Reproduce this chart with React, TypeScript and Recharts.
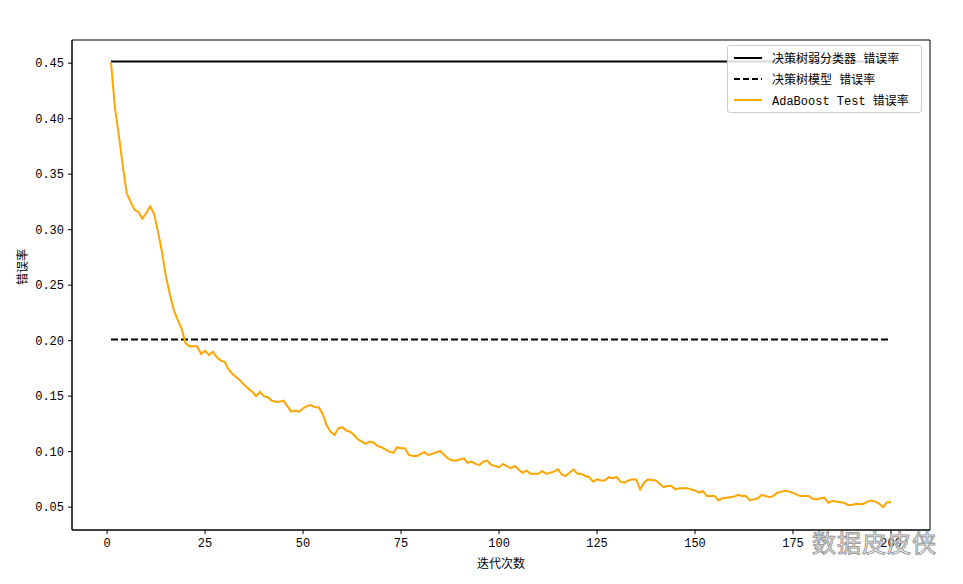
import { Line, LineChart, ReferenceArea, XAxis, YAxis } from "recharts";

// AdaBoost test error vs. boosting iterations, compared with a single stump
// and a full decision tree (both constant).

const FONT = "'Liberation Mono', 'Noto Sans CJK SC', monospace";

const iterations: number[] = Array.from({ length: 200 }, (_, i) => i + 1);

const stumpError = 0.4515;
const treeError = 0.201;

// iteration 1..200
const adaError: number[] = [
  0.451, 0.41, 0.385, 0.358, 0.333, 0.325, 0.318, 0.316, 0.31, 0.315,
  0.321, 0.314, 0.298, 0.28, 0.258, 0.242, 0.228, 0.219, 0.211, 0.198,
  0.195, 0.195, 0.195, 0.188, 0.191, 0.187, 0.19, 0.185, 0.182, 0.181,
  0.174, 0.17, 0.167, 0.164, 0.16, 0.157, 0.154, 0.15, 0.154, 0.15,
  0.149, 0.146, 0.145, 0.145, 0.146, 0.141, 0.136, 0.137, 0.136, 0.139,
  0.141, 0.142, 0.14, 0.14, 0.134, 0.124, 0.118, 0.115, 0.121, 0.122,
  0.119, 0.118, 0.115, 0.111, 0.109, 0.107, 0.109, 0.108, 0.105, 0.104,
  0.102, 0.1, 0.099, 0.104, 0.103, 0.103, 0.097, 0.096, 0.096, 0.098,
  0.0995, 0.097, 0.098, 0.0995, 0.1005, 0.097, 0.094, 0.092, 0.092, 0.093,
  0.094, 0.09, 0.091, 0.089, 0.088, 0.091, 0.092, 0.088, 0.087, 0.086,
  0.089, 0.087, 0.085, 0.087, 0.084, 0.081, 0.083, 0.08, 0.08, 0.08,
  0.0825, 0.08, 0.081, 0.082, 0.084, 0.0795, 0.078, 0.081, 0.084, 0.08,
  0.08, 0.078, 0.077, 0.073, 0.075, 0.074, 0.074, 0.077, 0.076, 0.077,
  0.073, 0.072, 0.074, 0.075, 0.075, 0.066, 0.072, 0.075, 0.0745, 0.074,
  0.071, 0.068, 0.069, 0.069, 0.066, 0.067, 0.067, 0.067, 0.066, 0.065,
  0.063, 0.0645, 0.06, 0.06, 0.06, 0.056, 0.058, 0.0585, 0.059, 0.0595,
  0.061, 0.06, 0.06, 0.056, 0.057, 0.058, 0.061, 0.06, 0.059, 0.06,
  0.063, 0.064, 0.0647, 0.064, 0.063, 0.061, 0.06, 0.06, 0.06, 0.0575,
  0.057, 0.058, 0.0585, 0.054, 0.0555, 0.055, 0.0545, 0.054, 0.052, 0.052,
  0.053, 0.0525, 0.053, 0.055, 0.056, 0.055, 0.053, 0.05, 0.0545, 0.0545,
];

const xTicks = [0, 25, 50, 75, 100, 125, 150, 175, 200];
const yTicks = [0.05, 0.1, 0.15, 0.2, 0.25, 0.3, 0.35, 0.4, 0.45];

const seriesNames = ["决策树弱分类器 错误率", "决策树模型 错误率", "AdaBoost Test 错误率"];

const data = iterations.map((it, i) => ({
  iter: it,
  stump: stumpError,
  tree: treeError,
  ada: adaError[i],
}));

// matplotlib-style 5% margins around the data
const X_DOMAIN: [number, number] = [-8.95, 209.95];
const Y_DOMAIN: [number, number] = [0.0294, 0.4709];

const tickStyle = { fill: "#000", fontSize: 12, fontFamily: FONT };

// plain overlay, a recharts <Legend> would steal height from the plot
const LegendBox = () => {
  const rows = [
    { name: seriesNames[0], color: "#000", dash: undefined },
    { name: seriesNames[1], color: "#000", dash: "6 3" },
    { name: seriesNames[2], color: "#FFA500", dash: undefined },
  ];
  return (
    <div
      style={{
        position: "absolute",
        left: 727,
        top: 45,
        border: "1px solid #ccc",
        borderRadius: 3,
        background: "rgba(255,255,255,0.85)",
        padding: "1px 6px 2px 6px",
        fontFamily: FONT,
        fontSize: 12,
        width: 181,
      }}
    >
      {rows.map(r => (
        <div key={r.name} style={{ display: "flex", alignItems: "center", height: 21 }}>
          <svg width={28} height={10} style={{ marginRight: 10 }}>
            <line x1={0} y1={5} x2={28} y2={5} stroke={r.color} strokeWidth={2} strokeDasharray={r.dash} />
          </svg>
          <span style={{ whiteSpace: "nowrap" }}>{r.name}</span>
        </div>
      ))}
    </div>
  );
};

export default function App() {
  return (
    <div style={{ position: "absolute", left: 0, top: 0, width: 963, height: 584, background: "#fff" }}>
      <LineChart
        width={963}
        height={584}
        data={data}
        margin={{ top: 40, right: 33, left: 12, bottom: 24 }}
      >
        <XAxis
          dataKey="iter"
          type="number"
          domain={X_DOMAIN}
          ticks={xTicks}
          allowDataOverflow
          tick={tickStyle}
          tickSize={4}
          tickMargin={4}
          stroke="#000"
          height={30}
          label={{ value: "迭代次数", position: "insideBottom", offset: -8, fill: "#000", fontSize: 12, fontFamily: FONT }}
        />
        <YAxis
          type="number"
          domain={Y_DOMAIN}
          ticks={yTicks}
          allowDataOverflow
          tickFormatter={(v: number) => v.toFixed(2)}
          tick={tickStyle}
          tickSize={4}
          tickMargin={4}
          stroke="#000"
          width={60}
          label={{ value: "错误率", angle: -90, position: "insideLeft", offset: 11, fill: "#000", fontSize: 12, fontFamily: FONT }}
        />
        <ReferenceArea
          x1={X_DOMAIN[0]}
          x2={X_DOMAIN[1]}
          y1={Y_DOMAIN[0]}
          y2={Y_DOMAIN[1]}
          fill="none"
          stroke="#000"
          strokeWidth={1}
          ifOverflow="visible"
        />
        <Line dataKey="stump" name={seriesNames[0]} stroke="#000" strokeWidth={2} dot={false} isAnimationActive={false} />
        <Line dataKey="tree" name={seriesNames[1]} stroke="#000" strokeWidth={2} strokeDasharray="7 3" dot={false} isAnimationActive={false} />
        <Line dataKey="ada" name={seriesNames[2]} stroke="#FFA500" strokeWidth={2} dot={false} isAnimationActive={false} />
      </LineChart>
      <LegendBox />
      <div
        style={{
          position: "absolute",
          left: 812,
          top: 524,
          fontFamily: "'Noto Sans CJK SC', sans-serif",
          fontSize: 24,
          color: "rgba(255,255,255,0.9)",
          WebkitTextStroke: "1px #9a9a9a",
          letterSpacing: 1,
        }}
      >
        数据皮皮侠
      </div>
    </div>
  );
}
